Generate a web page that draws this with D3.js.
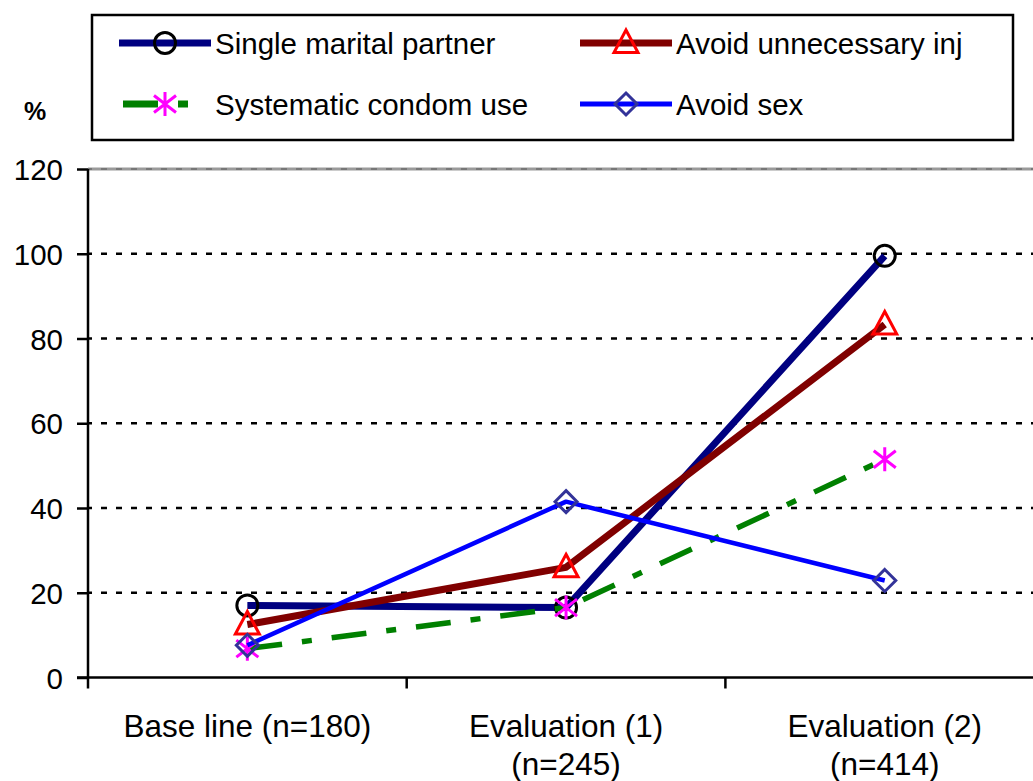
<!DOCTYPE html>
<html><head><meta charset="utf-8">
<script src="https://cdn.jsdelivr.net/npm/d3@7/dist/d3.min.js"></script>
<style>
html,body{margin:0;padding:0;background:#fff;}
svg{display:block;font-family:"Liberation Sans",Arial,sans-serif;}
</style></head>
<body>
<svg id="chart" width="1033" height="781"></svg>
<script>
const categories = ["Base line (n=180)", "Evaluation (1)\n(n=245)", "Evaluation (2)\n(n=414)"];
const yTicks = [0, 20, 40, 60, 80, 100, 120];
const seriesNames = ["Single marital partner", "Avoid unnecessary inj", "Systematic condom use", "Avoid sex"];
const singlePartner = [17, 16.5, 99.5];
const avoidInjections = [12.5, 26, 83.3];
const condomUse = [6.8, 16.5, 51.5];
const avoidSex = [7.6, 41.5, 22.9];

const styles = [
  {name: seriesNames[0], values: singlePartner, color: "#000080", width: 7, dash: null, marker: "circle", mColor: "#000000"},
  {name: seriesNames[1], values: avoidInjections, color: "#800000", width: 7, dash: null, marker: "triangle", mColor: "#ff0000"},
  {name: seriesNames[2], values: condomUse, color: "#008000", width: 5.5, dash: "35,20,10,20", marker: "star", mColor: "#ff00ff"},
  {name: seriesNames[3], values: avoidSex, color: "#0000ff", width: 4.5, dash: null, marker: "diamond", mColor: "#333399"}
];

const svg = d3.select("#chart");
const x = d3.scaleBand().domain(categories).range([88, 88 + 3 * 318.7]);
const y = d3.scaleLinear().domain([0, 120]).range([677.5, 169]);
const xl = 88, xr = 1033;

// grid
svg.append("line").attr("x1", xl).attr("x2", xr).attr("y1", y(120)).attr("y2", y(120))
  .attr("stroke", "#9a9a9a").attr("stroke-width", 3);
svg.append("g").selectAll("line").data(yTicks.filter(t => t > 0)).join("line")
  .attr("x1", xl).attr("x2", xr).attr("y1", d => y(d)).attr("y2", d => y(d))
  .attr("stroke", d => d === 120 ? "#555" : "#000").attr("stroke-width", d => d === 120 ? 1.2 : 2.5)
  .attr("stroke-dasharray", "6,9").attr("stroke-dashoffset", 2);

// y axis
const yAxis = svg.append("g").attr("transform", `translate(${xl},0)`)
  .call(d3.axisLeft(y).tickValues(yTicks).tickSize(11).tickPadding(14));
yAxis.attr("font-family", "Liberation Sans, Arial, sans-serif");
yAxis.select(".domain").attr("stroke", "#000").attr("stroke-width", 2.5).attr("d", `M0,${y(0)}V${y(120)}`);
yAxis.selectAll(".tick line").attr("stroke", "#000").attr("stroke-width", 2.5);
yAxis.selectAll(".tick text").attr("font-size", 29.5).attr("fill", "#000").attr("dy", "0.36em");

// x axis
const xAxisG = svg.append("g").attr("transform", `translate(0,${y(0)})`);
xAxisG.append("line").attr("x1", xl - 11).attr("x2", xr).attr("y1", 0).attr("y2", 0)
  .attr("stroke", "#000").attr("stroke-width", 2.5);
const bounds = categories.map(c => x(c)).concat([x(categories[categories.length - 1]) + x.bandwidth()]);
xAxisG.selectAll("line.xt").data(bounds).join("line").attr("class", "xt")
  .attr("x1", d => d).attr("x2", d => d).attr("y1", 0).attr("y2", 11)
  .attr("stroke", "#000").attr("stroke-width", 2.5);
const xlab = xAxisG.selectAll("text.xl").data(categories).join("text").attr("class", "xl")
  .attr("text-anchor", "middle").attr("font-size", 31.5).attr("fill", "#000")
  .attr("transform", d => `translate(${x(d) + x.bandwidth() / 2},0)`);
xlab.each(function(d) {
  const lines = d.split("\n");
  d3.select(this).selectAll("tspan").data(lines).join("tspan")
    .attr("x", 0).attr("y", (l, i) => 59 + i * 38).text(l => l);
});

// marker drawing
function drawMarker(g, type, color) {
  if (type === "circle") {
    g.append("circle").attr("r", 10.5).attr("fill", "none").attr("stroke", color).attr("stroke-width", 3);
  } else if (type === "triangle") {
    g.append("path").attr("d", "M0,-13L12,9.5L-12,9.5Z").attr("fill", "none").attr("stroke", color).attr("stroke-width", 3);
  } else if (type === "diamond") {
    g.append("path").attr("d", "M0,-11L11,0L0,11L-11,0Z").attr("fill", "none").attr("stroke", color).attr("stroke-width", 3);
  } else if (type === "star") {
    g.append("path").attr("d", "M0,-12V12M-11,-8.5L11,8.5M-11,8.5L11,-8.5").attr("fill", "none").attr("stroke", color).attr("stroke-width", 3);
  }
}

const line = d3.line().x((d, i) => x(categories[i]) + x.bandwidth() / 2).y(d => y(d));
styles.forEach(s => {
  const g = svg.append("g");
  g.append("path").datum(s.values).attr("d", line).attr("fill", "none")
    .attr("stroke", s.color).attr("stroke-width", s.width)
    .attr("stroke-dasharray", s.dash).attr("stroke-linejoin", "round");
  s.values.forEach((v, i) => {
    const mg = g.append("g").attr("transform", `translate(${x(categories[i]) + x.bandwidth() / 2},${y(v)})`);
    drawMarker(mg, s.marker, s.mColor);
  });
});

// legend
const leg = svg.append("g");
leg.append("rect").attr("x", 92).attr("y", 15).attr("width", 921).attr("height", 125)
  .attr("fill", "#fff").attr("stroke", "#000").attr("stroke-width", 2.5);
const legPos = [[119, 43], [580, 43], [123, 104], [580, 104]];
styles.forEach((s, i) => {
  const [lx, ly] = legPos[i];
  const g = leg.append("g");
  const len = i === 2 ? 67 : 92;
  g.append("line").attr("x1", lx).attr("x2", lx + len).attr("y1", ly).attr("y2", ly)
    .attr("stroke", s.color).attr("stroke-width", i === 3 ? 5 : 7).attr("stroke-dasharray", s.dash);
  const mx = i === 2 ? 165 : lx + 46;
  drawMarker(g.append("g").attr("transform", `translate(${mx},${ly})`), s.marker, s.mColor);
  g.append("text").attr("x", i % 2 === 0 ? 215 : 676).attr("y", ly + 11).attr("font-size", 29.5).attr("fill", "#000").text(s.name);
});

svg.append("text").attr("x", 35).attr("y", 120).attr("text-anchor", "middle")
  .attr("font-size", 25).attr("font-weight", "bold").attr("fill", "#000").text("%");
</script>
</body></html>
